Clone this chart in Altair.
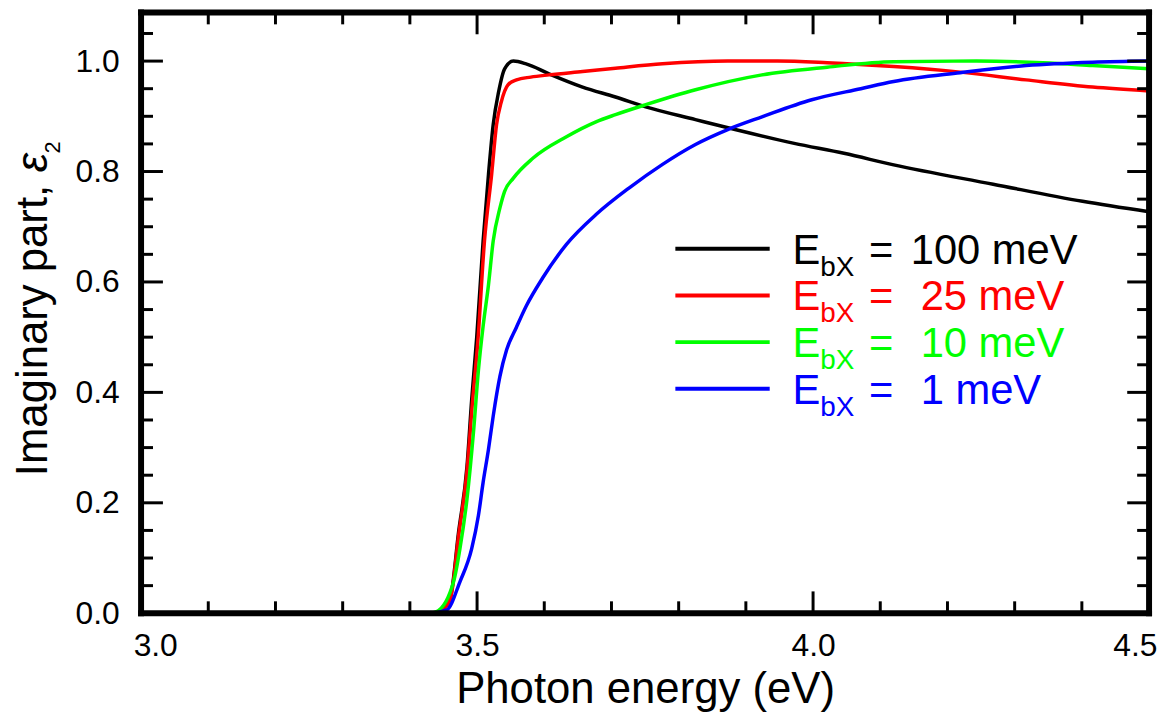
import altair as alt
import pandas as pd

# ---- data ----
energy_100 = [3.00, 3.43, 3.445, 3.46, 3.4725, 3.485, 3.492, 3.4995, 3.509, 3.517, 3.524, 3.532,
              3.541, 3.554, 3.573, 3.607, 3.657, 3.706, 3.751, 3.825, 3.884, 3.972, 4.046, 4.12,
              4.268, 4.401, 4.5]
eps_100 = [0, 0, 0.004, 0.027, 0.147, 0.266, 0.387, 0.50, 0.674, 0.795, 0.885, 0.944,
           0.986, 1.0, 0.995, 0.977, 0.953, 0.935, 0.917, 0.894, 0.876, 0.851, 0.833, 0.812,
           0.777, 0.746, 0.727]

energy_25 = [3.00, 3.43, 3.445, 3.46, 3.4725, 3.485, 3.493, 3.501, 3.511, 3.5217, 3.529, 3.536,
             3.546, 3.5586, 3.58, 3.607, 3.657, 3.706, 3.776, 3.873, 3.947, 4.021, 4.12, 4.219,
             4.317, 4.416, 4.5]
eps_25 = [0, 0, 0.004, 0.025, 0.14, 0.258, 0.38, 0.49, 0.674, 0.795, 0.885, 0.926,
          0.957, 0.966, 0.971, 0.975, 0.981, 0.987, 0.995, 1.0, 1.0, 0.997, 0.990, 0.980,
          0.966, 0.953, 0.946]

energy_10 = [3.00, 3.43, 3.44, 3.465, 3.4745, 3.485, 3.4946, 3.502, 3.509, 3.517, 3.524, 3.534,
             3.541, 3.554, 3.583, 3.633, 3.677, 3.706, 3.751, 3.825, 3.924, 4.021, 4.12, 4.243,
             4.342, 4.416, 4.5]
eps_10 = [0, 0, 0.003, 0.057, 0.117, 0.207, 0.327, 0.44, 0.52, 0.595, 0.674, 0.734,
          0.764, 0.788, 0.824, 0.863, 0.89, 0.903, 0.921, 0.948, 0.975, 0.989, 0.999, 1.0,
          0.997, 0.992, 0.986]

energy_1 = [3.00, 3.43, 3.455, 3.4745, 3.492, 3.502, 3.509, 3.517, 3.524, 3.534, 3.544, 3.5586,
            3.573, 3.598, 3.633, 3.677, 3.726, 3.776, 3.825, 3.873, 3.924, 3.998, 4.071, 4.12,
            4.219, 4.317, 4.416, 4.5]
eps_1 = [0, 0, 0.006, 0.057, 0.117, 0.177, 0.237, 0.297, 0.357, 0.429, 0.477, 0.518,
         0.556, 0.608, 0.668, 0.722, 0.770, 0.813, 0.849, 0.876, 0.899, 0.93, 0.95, 0.963,
         0.979, 0.992, 0.998, 1.0]

series_colors = ["#000000", "#ff0000", "#00ff00", "#0000ff"]
legend_values = ["100 meV", "25 meV", "10 meV", "1 meV"]

x_major = [3.0, 3.5, 4.0, 4.5]
x_minor = [3.1, 3.2, 3.3, 3.4, 3.6, 3.7, 3.8, 3.9, 4.1, 4.2, 4.3, 4.4]
y_major = [0.0, 0.2, 0.4, 0.6, 0.8, 1.0]
y_minor = [0.05, 0.1, 0.15, 0.25, 0.3, 0.35, 0.45, 0.5, 0.55, 0.65, 0.7, 0.75,
           0.85, 0.9, 0.95, 1.05]

x_title = "Photon energy (eV)"
y_title_main = "Imaginary part, "
y_title_sym = "ε"
y_title_sub = "2"

# ---- layout (plot area origin at page x=142, y=10) ----
W, H = 1015, 605
FONT = "Liberation Sans"
OY = 10  # page y of plot top

xs = alt.Scale(domain=[3.0, 4.5], nice=False, zero=False)
ys = alt.Scale(domain=[0, H / 556], nice=False, zero=True)

xaxis = alt.Axis(values=x_major, format=".1f", ticks=False, tickSize=0, domain=False, grid=False,
                 labelFont=FONT, labelFontSize=32, labelColor="black", labelPadding=18,
                 labelFlush=True, labelFlushOffset=8,
                 title=x_title, titleFont=FONT, titleFontSize=44, titleFontWeight="normal",
                 titleColor="black", titleBaseline="alphabetic", titleY=90)
yaxis = alt.Axis(values=y_major, format=".1f", ticks=False, tickSize=0, domain=False, grid=False,
                 labelFont=FONT, labelFontSize=32, labelColor="black", labelPadding=22,
                 labelFlush=False, title=None)


def X(field):
    return alt.X(field, type="quantitative", scale=xs, axis=xaxis)


def Y(field):
    return alt.Y(field, type="quantitative", scale=ys, axis=yaxis)


layers = []

all_series = [(energy_100, eps_100), (energy_25, eps_25), (energy_10, eps_10), (energy_1, eps_1)]
for (e, v), c in zip(all_series, series_colors):
    df = pd.DataFrame({"E": e, "eps": v})
    layers.append(
        alt.Chart(df).mark_line(color=c, strokeWidth=3.5, interpolate="monotone")
        .encode(x=X("E"), y=Y("eps"))
    )

# frame (drawn explicitly)
one = pd.DataFrame({"t": [""]})
for spec in ((0, W, 0, 0), (0, W, H, H), (0, 0, 0, H), (W, W, 0, H)):
    layers.append(alt.Chart(one).mark_rule(color="black", strokeWidth=6, strokeCap="square")
                  .encode(x=alt.value(spec[0]), x2=alt.value(spec[1]),
                          y=alt.value(spec[2]), y2=alt.value(spec[3])))

# inward ticks on all four sides
for vals, ln in ((x_major, 22), (x_minor, 12)):
    d = pd.DataFrame({"v": vals})
    layers.append(alt.Chart(d).mark_rule(color="black", strokeWidth=3)
                  .encode(x=X("v"), y=alt.value(H), y2=alt.value(H - ln)))
    layers.append(alt.Chart(d).mark_rule(color="black", strokeWidth=3)
                  .encode(x=X("v"), y=alt.value(0), y2=alt.value(ln)))
for vals, ln in ((y_major, 22), (y_minor, 12)):
    d = pd.DataFrame({"v": vals})
    layers.append(alt.Chart(d).mark_rule(color="black", strokeWidth=3)
                  .encode(y=Y("v"), x=alt.value(0), x2=alt.value(ln)))
    layers.append(alt.Chart(d).mark_rule(color="black", strokeWidth=3)
                  .encode(y=Y("v"), x=alt.value(W), x2=alt.value(W - ln)))

# custom legend with subscripts
for i, (val, c) in enumerate(zip(legend_values, series_colors)):
    base_y = 263 - OY + 47 * i
    layers.append(alt.Chart(one).mark_rule(color=c, strokeWidth=4)
                  .encode(x=alt.value(538), x2=alt.value(633), y=alt.value(base_y - 15)))
    layers.append(alt.Chart(one).mark_text(font=FONT, fontSize=42, color=c, align="left",
                                           baseline="alphabetic")
                  .encode(x=alt.value(656), y=alt.value(base_y), text=alt.value("E")))
    layers.append(alt.Chart(one).mark_text(font=FONT, fontSize=28, color=c, align="left",
                                           baseline="alphabetic")
                  .encode(x=alt.value(684), y=alt.value(base_y + 12), text=alt.value("bX")))
    layers.append(alt.Chart(one).mark_text(font=FONT, fontSize=42, color=c, align="left",
                                           baseline="alphabetic")
                  .encode(x=alt.value(733), y=alt.value(base_y), text=alt.value("=")))
    layers.append(alt.Chart(one).mark_text(font=FONT, fontSize=42, color=c, align="left",
                                           baseline="alphabetic")
                  .encode(x=alt.value(775 if i == 0 else 785), y=alt.value(base_y),
                          text=alt.value(val)))

# y-axis title built from pieces (italic epsilon with subscript)
layers.append(alt.Chart(one).mark_text(font=FONT, fontSize=44, color="black", align="left",
                                       baseline="alphabetic", angle=270)
              .encode(x=alt.value(-95), y=alt.value(477 - OY), text=alt.value(y_title_main)))
layers.append(alt.Chart(one).mark_text(font=FONT, fontSize=44, color="black", align="left",
                                       baseline="alphabetic", angle=270, fontStyle="italic")
              .encode(x=alt.value(-95), y=alt.value(171 - OY), text=alt.value(y_title_sym)))
layers.append(alt.Chart(one).mark_text(font=FONT, fontSize=22, color="black", align="left",
                                       baseline="alphabetic", angle=270)
              .encode(x=alt.value(-82), y=alt.value(152 - OY), text=alt.value(y_title_sub)))

chart = alt.layer(*layers).properties(
    width=W, height=H,
    autosize=alt.AutoSizeParams(type="none"),
    padding={"left": 134, "top": OY - 8, "right": 9, "bottom": 99},
).configure(background="white").configure_view(stroke=None)

chart.save("out.html", embed_options={"renderer": "svg", "actions": False})
